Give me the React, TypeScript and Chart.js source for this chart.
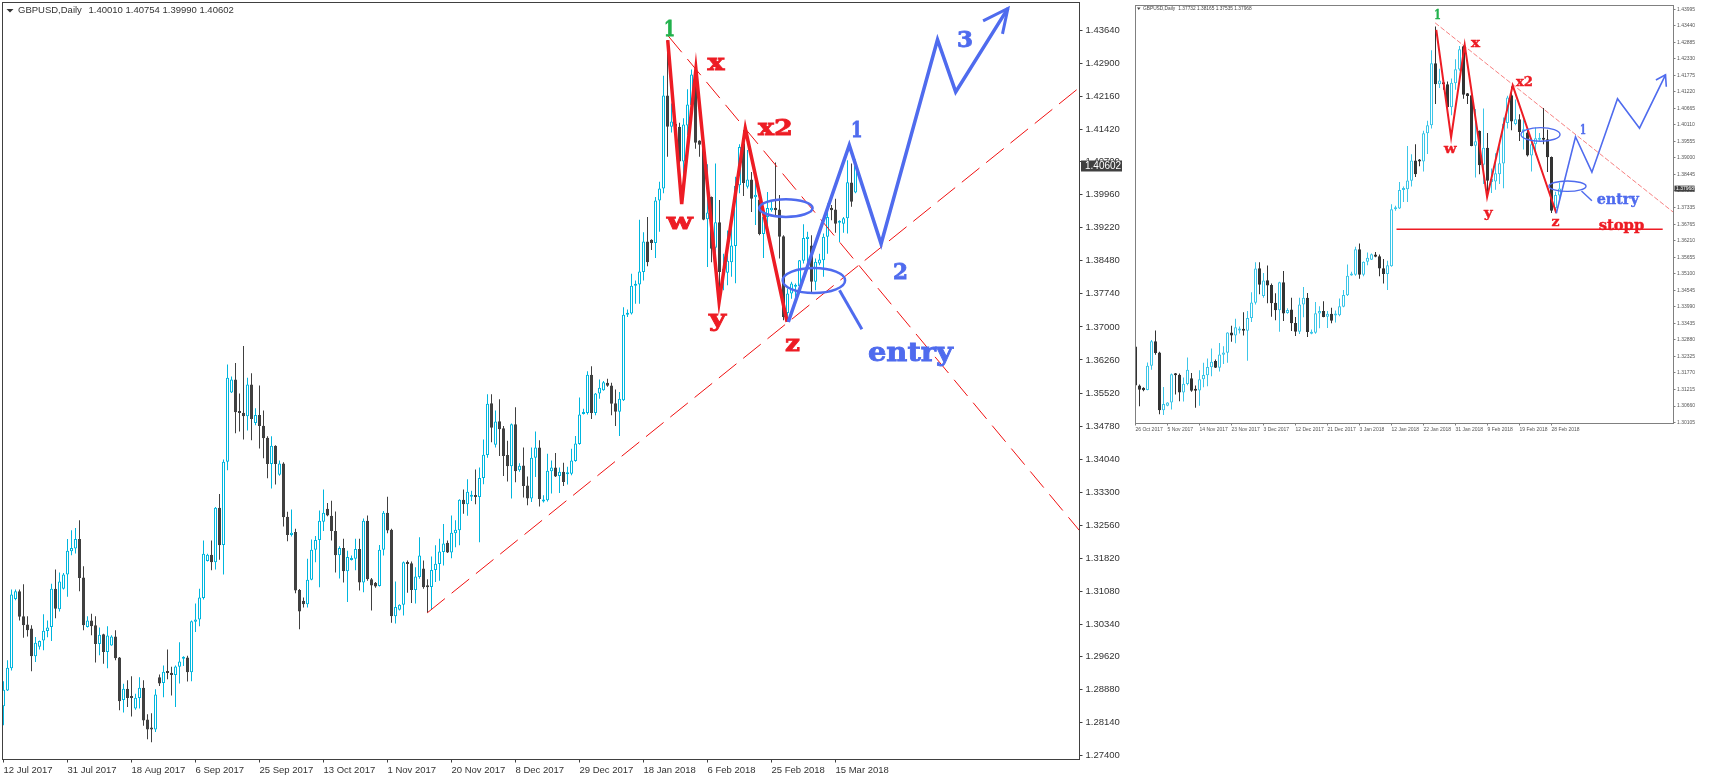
import React, { useEffect, useRef } from "react";
import { Chart, registerables } from "chart.js";

Chart.register(...registerables);

// ---------- price data (daily GBPUSD candles) ----------
const opens = [
  1.2851,1.2886,1.2936,1.3091,1.3108,1.3052,1.3034,1.3025,1.2963,1.2984,
  1.2998,1.3019,1.3028,1.3114,1.3068,1.3114,1.3146,1.3198,1.3204,1.3225,
  1.3139,1.3028,1.3043,1.3032,1.2990,1.3012,1.2972,1.2987,1.3007,1.2960,
  1.2865,1.2890,1.2871,1.2846,1.2869,1.2892,1.2821,1.2801,1.2799,1.2916,
  1.2903,1.2928,1.2926,1.2921,1.2939,1.2957,1.2960,1.2927,1.3040,1.3045,
  1.3093,1.3176,1.3190,1.3173,1.3295,1.3212,1.3398,1.3553,1.3582,1.3510,
  1.3508,1.3500,1.3571,1.3485,1.3503,1.3479,1.3452,1.3393,1.3434,1.3369,
  1.3394,1.3275,1.3234,1.3241,1.3111,1.3087,1.3079,1.3134,1.3201,1.3223,
  1.3264,1.3293,1.3277,1.3243,1.3189,1.3205,1.3153,1.3178,1.3181,1.3203,
  1.3128,1.3266,1.3135,1.3127,1.3120,1.3201,1.3284,1.3246,1.3052,1.3067,
  1.3078,1.3173,1.3171,1.3111,1.3140,1.3159,1.3118,1.3118,1.3156,1.3169,
  1.3196,1.3217,1.3195,1.3238,1.3245,1.3313,1.3303,1.3320,1.3322,1.3319,
  1.3362,1.3413,1.3529,1.3436,1.3489,1.3473,1.3413,1.3388,1.3482,1.3379,
  1.3390,1.3345,1.3316,1.3407,1.3430,1.3309,1.3312,1.3377,1.3385,1.3366,
  1.3376,1.3370,1.3371,1.3400,1.3438,1.3505,1.3507,1.3593,1.3507,1.3551,
  1.3558,1.3575,1.3569,1.3529,1.3510,1.3536,1.3727,1.3730,1.3792,1.3795,
  1.3823,1.3891,1.3895,1.3888,1.3983,1.4010,1.4218,1.4148,1.4154,1.4148,
  1.4070,1.4151,1.4197,1.4275,1.4117,1.4111,1.3941,1.3991,1.3877,1.3934,
  1.3819,1.3821,1.3845,1.3881,1.4017,1.4111,1.4014,1.4030,1.3990,1.3985,
  1.3908,1.3946,1.3961,1.3967,1.3963,1.3903,1.3731,1.3775,1.3790,1.3791,
  1.3848,1.3897,1.3882,1.3801,1.3842,1.3849,1.3902,1.3967,1.3963,1.3933,
  1.3931,1.3943,1.4023,1.4001,
];
const highs = [
  1.2907,1.2954,1.3112,1.3112,1.3112,1.3124,1.3052,1.3032,1.3006,1.2998,
  1.3057,1.3043,1.3125,1.3157,1.3150,1.3149,1.3225,1.3245,1.3250,1.3267,
  1.3164,1.3052,1.3058,1.3052,1.3027,1.3013,1.3030,1.3010,1.3021,1.2961,
  1.2901,1.2909,1.2918,1.2879,1.2916,1.2909,1.2833,1.2835,1.2889,1.2922,
  1.2942,1.2978,1.2939,1.2942,1.2994,1.2963,1.2964,1.3043,1.3081,1.3114,
  1.3222,1.3192,1.3222,1.3297,1.3326,1.3403,1.3616,1.3589,1.3619,1.3551,
  1.3657,1.3586,1.3596,1.3518,1.3569,1.3513,1.3455,1.3455,1.3435,1.3401,
  1.3397,1.3286,1.3291,1.3248,1.3113,1.3094,1.3181,1.3224,1.3232,1.3289,
  1.3336,1.3306,1.3311,1.3287,1.3209,1.3226,1.3199,1.3188,1.3226,1.3226,
  1.3271,1.3278,1.3138,1.3129,1.3212,1.3288,1.3320,1.3248,1.3130,1.3079,
  1.3175,1.3177,1.3175,1.3162,1.3229,1.3177,1.3135,1.3186,1.3211,1.3226,
  1.3259,1.3222,1.3278,1.3267,1.3314,1.3336,1.3359,1.3333,1.3381,1.3385,
  1.3448,1.3549,1.3549,1.3513,1.3538,1.3478,1.3445,1.3484,1.3520,1.3395,
  1.3430,1.3365,1.3430,1.3466,1.3446,1.3323,1.3416,1.3401,1.3418,1.3385,
  1.3396,1.3387,1.3427,1.3456,1.3542,1.3517,1.3601,1.3612,1.3552,1.3582,
  1.3579,1.3584,1.3575,1.3560,1.3554,1.3744,1.3739,1.3819,1.3804,1.3940,
  1.3912,1.3946,1.3896,1.3991,1.4025,1.4262,1.4342,1.4200,1.4163,1.4157,
  1.4167,1.4232,1.4276,1.4279,1.4118,1.4126,1.4064,1.3992,1.4066,1.3984,
  1.3864,1.3916,1.3939,1.4036,1.4109,1.4140,1.4096,1.4047,1.4030,1.4002,
  1.3965,1.4002,1.3984,1.4068,1.3995,1.3905,1.3786,1.3801,1.3797,1.3850,
  1.3930,1.3913,1.3905,1.3853,1.3864,1.3909,1.3976,1.3973,1.3987,1.3939,
  1.3946,1.4073,1.4066,1.4075,
];
const lows = [
  1.2808,1.2885,1.2931,1.3088,1.3043,1.3004,1.3007,1.2929,1.2950,1.2978,
  1.2976,1.3005,1.2997,1.3048,1.3063,1.3112,1.3096,1.3189,1.3193,1.3108,
  1.3021,1.3027,1.3010,1.2949,1.2965,1.2946,1.2936,1.2986,1.2954,1.2842,
  1.2837,1.2849,1.2828,1.2843,1.2846,1.2807,1.2777,1.2770,1.2793,1.2896,
  1.2871,1.2911,1.2875,1.2849,1.2902,1.2941,1.2906,1.2907,1.3017,1.3030,
  1.3090,1.3175,1.3155,1.3157,1.3179,1.3146,1.3379,1.3552,1.3462,1.3466,
  1.3448,1.3468,1.3446,1.3480,1.3428,1.3406,1.3361,1.3338,1.3347,1.3367,
  1.3253,1.3220,1.3231,1.3104,1.3023,1.3072,1.3072,1.3133,1.3173,1.3117,
  1.3243,1.3276,1.3222,1.3150,1.3137,1.3128,1.3084,1.3177,1.3155,1.3110,
  1.3106,1.3132,1.3065,1.3116,1.3119,1.3188,1.3238,1.3038,1.3036,1.3065,
  1.3054,1.3105,1.3082,1.3081,1.3136,1.3114,1.3060,1.3067,1.3129,1.3132,
  1.3166,1.3194,1.3182,1.3207,1.3211,1.3282,1.3277,1.3310,1.3303,1.3218,
  1.3348,1.3407,1.3442,1.3430,1.3411,1.3366,1.3354,1.3316,1.3352,1.3376,
  1.3318,1.3301,1.3308,1.3364,1.3298,1.3307,1.3309,1.3327,1.3364,1.3328,
  1.3344,1.3347,1.3368,1.3398,1.3436,1.3504,1.3504,1.3494,1.3502,1.3539,
  1.3557,1.3566,1.3502,1.3478,1.3456,1.3534,1.3722,1.3728,1.3752,1.3752,
  1.3804,1.3836,1.3872,1.3854,1.3913,1.3999,1.4081,1.4135,1.4129,1.4043,
  1.4043,1.4129,1.4193,1.4099,1.4081,1.3939,1.3834,1.3845,1.3812,1.3786,
  1.3782,1.3793,1.3812,1.3798,1.3999,1.3993,1.4010,1.3957,1.3928,1.3905,
  1.3854,1.3909,1.3958,1.3946,1.3853,1.3715,1.3715,1.3763,1.3767,1.3778,
  1.3842,1.3842,1.3778,1.3782,1.3838,1.3812,1.3864,1.3939,1.3911,1.3890,
  1.3911,1.3909,1.3969,1.3999,
];
const closes = [
  1.2888,1.2937,1.3101,1.3108,1.3051,1.3032,1.3021,1.2963,1.2993,1.2997,
  1.3020,1.3027,1.3114,1.3069,1.3130,1.3146,1.3199,1.3205,1.3225,1.3138,
  1.3032,1.3043,1.3030,1.2990,1.3011,1.2972,1.3009,1.3007,1.2958,1.2862,
  1.2890,1.2869,1.2869,1.2870,1.2892,1.2819,1.2799,1.2799,1.2877,1.2902,
  1.2928,1.2925,1.2921,1.2940,1.2951,1.2960,1.2927,1.3041,1.3045,1.3094,
  1.3192,1.3190,1.3173,1.3295,1.3211,1.3398,1.3586,1.3582,1.3509,1.3507,
  1.3500,1.3571,1.3494,1.3503,1.3478,1.3451,1.3393,1.3434,1.3393,1.3394,
  1.3274,1.3234,1.3239,1.3110,1.3063,1.3079,1.3134,1.3201,1.3223,1.3266,
  1.3284,1.3278,1.3243,1.3189,1.3205,1.3153,1.3185,1.3181,1.3203,1.3128,
  1.3266,1.3135,1.3121,1.3119,1.3201,1.3284,1.3244,1.3052,1.3073,1.3078,
  1.3173,1.3169,1.3111,1.3141,1.3188,1.3117,1.3117,1.3156,1.3170,1.3197,
  1.3215,1.3195,1.3239,1.3246,1.3313,1.3303,1.3331,1.3322,1.3319,1.3362,
  1.3414,1.3528,1.3474,1.3488,1.3471,1.3411,1.3388,1.3482,1.3377,1.3389,
  1.3344,1.3316,1.3407,1.3430,1.3315,1.3313,1.3378,1.3385,1.3365,1.3376,
  1.3353,1.3372,1.3401,1.3439,1.3504,1.3508,1.3593,1.3507,1.3551,1.3564,
  1.3576,1.3568,1.3528,1.3510,1.3539,1.3727,1.3730,1.3792,1.3795,1.3824,
  1.3891,1.3845,1.3888,1.3983,1.4010,1.4218,1.4148,1.4160,1.4148,1.4070,
  1.4153,1.4198,1.4265,1.4112,1.4108,1.3940,1.3956,1.3875,1.3934,1.3823,
  1.3830,1.3848,1.3882,1.4016,1.4103,1.4022,1.4030,1.3987,1.3996,1.3908,
  1.3946,1.3966,1.3967,1.3961,1.3902,1.3722,1.3775,1.3797,1.3793,1.3849,
  1.3899,1.3902,1.3801,1.3846,1.3851,1.3902,1.3946,1.3961,1.3931,1.3937,
  1.3943,1.4024,1.3980,1.4060,
];

// the small chart stops on an unfinished bar
const insetFirstBar = 91;
const insetLastBar = 197;
const insetLastOHLC = [1.37732, 1.38165, 1.37535, 1.37968];

// ---------- axes ----------
const mainDates = ["12 Jul 2017","31 Jul 2017","18 Aug 2017","6 Sep 2017","25 Sep 2017","13 Oct 2017","1 Nov 2017","20 Nov 2017","8 Dec 2017","29 Dec 2017","18 Jan 2018","6 Feb 2018","25 Feb 2018","15 Mar 2018"];
const mainDateBars = [0,16,32,48,64,80,96,112,128,144,160,176,192,208];
const mainPriceTicks = [1.4364,1.429,1.4216,1.4142,1.407,1.3996,1.3922,1.3848,1.3774,1.37,1.3626,1.3552,1.3478,1.3404,1.333,1.3256,1.3182,1.3108,1.3034,1.2962,1.2888,1.2814,1.274];
const insetDates = ["26 Oct 2017","5 Nov 2017","14 Nov 2017","23 Nov 2017","3 Dec 2017","12 Dec 2017","21 Dec 2017","3 Jan 2018","12 Jan 2018","22 Jan 2018","31 Jan 2018","9 Feb 2018","19 Feb 2018","28 Feb 2018"];
const insetDateBars = [91,99,107,115,123,131,139,147,155,163,171,179,187,195];
const insetPriceTicks = [1.43995,1.4344,1.42885,1.4233,1.41775,1.4122,1.40665,1.4011,1.39555,1.39,1.38445,1.3789,1.37335,1.36765,1.3621,1.35655,1.351,1.34545,1.3399,1.33435,1.3288,1.32325,1.3177,1.31215,1.3066,1.30105];

// ---------- hand drawn marks, as [bar, price] ----------
const mainRedWave = [[166.05,1.4342],[169.55,1.3975],[173.1,1.4277],[178.9,1.3756],[185.45,1.4144],[195.9,1.3711]];
const mainBlueWave = [[196.2,1.3711],[211.45,1.4107],[219.4,1.3886],[233.5,1.4343],[238.05,1.4226],[251.1,1.4413]];
const mainBlueArrow = [[244.9,1.4385],[251.1,1.4413],[249.75,1.4356]];
const mainEntryPointer = [[209,1.3782],[214.6,1.3695]];
const mainRisingLine = [[105.95,1.306],[269,1.4236]];
const mainFallingLine = [[166.2,1.4351],[269,1.3244]];
const mainEllipses = [[195.6,1.3966,6.68,0.00197],[202.6,1.3804,7.8,0.0028]];
const mainNotes: [string, number, number, string, number][] = [
  ["1",165.1,1.4351,"green",11],["x",176,1.4275,"red",17],["w",165.8,1.392,"red",26],["y",176.4,1.3701,"red",17],
  ["z",195.4,1.3647,"red",15],["x2",188.6,1.4129,"red",35],["1",211.9,1.4125,"blue",11.5],["2",222.4,1.3807,"blue",15],
  ["3",238.4,1.4327,"blue",16],["entry",216.1,1.3623,"blue",85],
];

const insetRedWave = [[166.2,1.433],[169.9,1.3969],[173.3,1.428],[178.9,1.3768],[185.3,1.4144],[196.2,1.3714]];
const insetBlueWave = [[196.2,1.3714],[201,1.3971],[205.1,1.3852],[211.5,1.4099],[217,1.4],[223.5,1.4179]];
const insetBlueArrow = [[221.1,1.4162],[223.5,1.4179],[223.7,1.4139]];
const insetEntryPointer = [[202.5,1.3789],[205.1,1.3756]];
const insetFallingLine = [[165.9,1.4354],[225.5,1.3717]];
const insetStopLine = [[156.25,1.366],[222.8,1.366]];
const insetEllipses = [[192.25,1.3979,4.88,0.00229],[199,1.3805,4.63,0.00175]];
const insetNotes: [string, number, number, string, number][] = [
  ["1",165.7,1.4366,"green",6.6],["x",174.9,1.4274,"red",9],["w",168.1,1.3918,"red",12.5],["y",178.1,1.3701,"red",8.6],
  ["z",195,1.3672,"red",8],["x2",186.1,1.4142,"red",17],["1",202.1,1.398,"blue",6],["entry",206.3,1.3745,"blue",42],["stopp",206.8,1.3658,"red",45.5],
];

// ---------- styles ----------
const RED = "#ED1C24";
const BLUE = "#4F6BEE";
const GREEN = "#22B14C";
const DARK = "#404040";
const noteColor: Record<string, string> = { red: RED, blue: BLUE, green: GREEN };
const pts = (a: number[][]) => a.map(([x, y]) => ({ x, y }));

type Panel = {
  width: number; height: number; left: number; top: number; right: number; bottom: number;
  barStart: number; barEnd: number; priceTop: number; priceBottom: number;
  o: number[]; h: number[]; l: number[]; c: number[]; firstBar: number;
  dates: string[]; dateBars: number[]; priceTicks: number[];
  bull: string; bear: string; frame: string; textColor: string;
  axisFont: number; tickLen: number; xPad: number; yPad: number; bodyWidth: number;
  lines: any[]; ellipses: number[][]; ellipseWidth: number; notes: [string, number, number, string, number][]; noteSize: number; entrySize: number; noteStroke: number;
  tagClose: number; tagWidth: number; tagHeight: number; tagX: number; tagFont: number;
  title: (ctx: CanvasRenderingContext2D) => void;
};

function buildChart(canvas: HTMLCanvasElement, p: Panel) {
  const n = p.o.length;
  const bars = Array.from({ length: n }, (_, k) => k + p.firstBar);
  const colour = (k: number) => (p.c[k] >= p.o[k] ? p.bull : p.bear);
  const overlay = {
    id: "overlay",
    afterDraw(chart: any) {
      const { ctx, chartArea: a } = chart;
      const xs = chart.scales.x, ys = chart.scales.y;
      ctx.save();
      ctx.strokeStyle = p.frame;
      ctx.lineWidth = 1;
      ctx.strokeRect(a.left, a.top, a.right - a.left, a.bottom - a.top);

      ctx.beginPath();
      ctx.rect(a.left, 0, a.right - a.left, p.height);
      ctx.save();
      ctx.clip();
      ctx.strokeStyle = BLUE;
      ctx.lineWidth = p.ellipseWidth;
      for (const [bx, by, rx, ry] of p.ellipses) {
        const cx = xs.getPixelForValue(bx), cy = ys.getPixelForValue(by);
        ctx.beginPath();
        ctx.ellipse(cx, cy, Math.abs(xs.getPixelForValue(bx + rx) - cx), Math.abs(ys.getPixelForValue(by + ry) - cy), 0, 0, Math.PI * 2);
        ctx.stroke();
      }
      ctx.textAlign = "left";
      ctx.textBaseline = "alphabetic";
      for (const [text, bx, by, tone, w] of p.notes) {
        const size = text === "entry" || text === "stopp" ? p.entrySize : p.noteSize;
        ctx.font = `bold ${size}px "DejaVu Serif"`;
        ctx.fillStyle = noteColor[tone];
        ctx.strokeStyle = noteColor[tone];
        ctx.lineWidth = p.noteStroke;
        const m = ctx.measureText(text).width;
        ctx.save();
        ctx.translate(xs.getPixelForValue(bx), ys.getPixelForValue(by));
        ctx.scale(w / m, 1);
        ctx.fillText(text, 0, 0);
        ctx.strokeText(text, 0, 0);
        ctx.restore();
      }
      ctx.restore();

      const ty = ys.getPixelForValue(p.tagClose);
      ctx.fillStyle = DARK;
      ctx.fillRect(p.tagX, ty - p.tagHeight / 2, p.tagWidth, p.tagHeight);
      ctx.fillStyle = "#ffffff";
      ctx.font = `${p.tagFont}px "Liberation Sans"`;
      ctx.textAlign = "left";
      ctx.textBaseline = "middle";
      ctx.fillText(p.tagClose.toFixed(5), p.tagX + (p.tagWidth > 30 ? 4 : 1.5), ty + 0.5);
      p.title(ctx);
      ctx.restore();
    },
  };

  return new Chart(canvas, {
    type: "bar",
    data: {
      datasets: [
        ...p.lines.map((l, i) => ({ type: "line", order: i, data: pts(l.points), borderColor: l.color, borderWidth: l.width, borderDash: l.dash || [], pointRadius: 0, tension: 0, fill: false, borderCapStyle: "butt", borderJoinStyle: "miter", clip: false })),
        {
          type: "bar", order: 50, grouped: false, inflateAmount: 0, borderSkipped: false, borderWidth: 1, minBarLength: 2,
          barThickness: p.bodyWidth, maxBarThickness: p.bodyWidth,
          data: bars.map((x, k) => ({ x, y: [p.o[k], p.c[k]] })),
          backgroundColor: bars.map((_, k) => (p.c[k] >= p.o[k] ? "#ffffff" : p.bear)),
          borderColor: bars.map((_, k) => colour(k)),
        },
        {
          type: "bar", order: 60, grouped: false, inflateAmount: 0, borderWidth: 0,
          barThickness: 1, maxBarThickness: 1,
          data: bars.map((x, k) => ({ x, y: [p.l[k], p.h[k]] })),
          backgroundColor: bars.map((_, k) => colour(k)),
        },
      ],
    } as any,
    options: {
      responsive: false,
      devicePixelRatio: 1,
      animation: false,
      events: [],
      layout: { padding: { left: p.left, top: p.top, right: 0, bottom: 0 } },
      plugins: { legend: { display: false }, tooltip: { enabled: false } },
      scales: {
        x: {
          type: "linear", offset: false, min: p.barStart, max: p.barEnd,
          afterBuildTicks: (s: any) => { s.ticks = p.dateBars.map((value) => ({ value })); },
          afterFit: (s: any) => { s.height = p.height - p.bottom; s.paddingLeft = 0; s.paddingRight = 0; },
          grid: { display: true, offset: false, drawOnChartArea: false, drawTicks: true, tickLength: p.tickLen, color: p.frame },
          border: { display: false },
          ticks: {
            autoSkip: false, maxRotation: 0, minRotation: 0, align: "start", padding: p.xPad, color: p.textColor,
            font: { family: "Liberation Sans", size: p.axisFont },
            callback: (v: number) => p.dates[p.dateBars.indexOf(v)],
          },
        },
        y: {
          type: "linear", position: "right", beginAtZero: false, min: p.priceBottom, max: p.priceTop,
          afterBuildTicks: (s: any) => { s.ticks = p.priceTicks.map((value) => ({ value })); },
          afterFit: (s: any) => { s.width = p.width - p.right; s.paddingTop = 0; s.paddingBottom = 0; },
          grid: { display: true, drawOnChartArea: false, drawTicks: true, tickLength: p.tickLen, color: p.frame },
          border: { display: false },
          ticks: {
            autoSkip: false, padding: p.yPad, color: p.textColor,
            font: { family: "Liberation Sans", size: p.axisFont },
            callback: (v: number) => v.toFixed(5),
          },
        },
      },
    } as any,
    plugins: [overlay],
  } as any);
}

function drawTitle(ctx: CanvasRenderingContext2D, tri: number[], size: number, name: string, nameX: number, rest: string, restX: number, y: number, color: string) {
  ctx.fillStyle = color;
  ctx.beginPath();
  ctx.moveTo(tri[0], tri[1]);
  ctx.lineTo(tri[2], tri[1]);
  ctx.lineTo((tri[0] + tri[2]) / 2, tri[3]);
  ctx.closePath();
  ctx.fill();
  ctx.font = `${size}px "Liberation Sans"`;
  ctx.textAlign = "left";
  ctx.textBaseline = "middle";
  ctx.fillText(name, nameX, y);
  ctx.fillText(rest, restX, y);
}

export default function App() {
  const mainRef = useRef<HTMLCanvasElement>(null);
  const insetRef = useRef<HTMLCanvasElement>(null);

  useEffect(() => {
    const mainChart = buildChart(mainRef.current!, {
      width: 1130, height: 779, left: 2.5, top: 2.5, right: 1079.5, bottom: 759.5,
      barStart: -0.25, barEnd: 269, priceTop: 1.44262, priceBottom: 1.27316,
      o: opens, h: highs, l: lows, c: closes, firstBar: 0,
      dates: mainDates, dateBars: mainDateBars, priceTicks: mainPriceTicks,
      bull: "#00B6DE", bear: DARK, frame: DARK, textColor: "#333333",
      axisFont: 9.5, tickLen: 3, xPad: 2, yPad: 3, bodyWidth: 3,
      lines: [
        { points: mainBlueArrow, color: BLUE, width: 3 },
        { points: mainBlueWave, color: BLUE, width: 3.5 },
        { points: mainEntryPointer, color: BLUE, width: 3 },
        { points: mainRedWave, color: RED, width: 3.5 },
        { points: mainRisingLine, color: "#F01010", width: 1, dash: [22.6, 8.6] },
        { points: mainFallingLine, color: "#F01010", width: 1, dash: [21, 8.8] },
      ],
      ellipses: mainEllipses, ellipseWidth: 2.5, notes: mainNotes, noteSize: 22, entrySize: 26, noteStroke: 0.8,
      tagClose: closes[closes.length - 1] + 0.00002, tagWidth: 41, tagHeight: 11, tagX: 1081, tagFont: 10,
      title: (ctx) => drawTitle(ctx, [6.5, 9, 13.5, 12.5], 9.5, "GBPUSD,Daily", 18, "1.40010 1.40754 1.39990 1.40602", 88.5, 10.5, "#333333"),
    });

    const oI = opens.slice(insetFirstBar, insetLastBar).concat(insetLastOHLC[0]);
    const hI = highs.slice(insetFirstBar, insetLastBar).concat(insetLastOHLC[1]);
    const lI = lows.slice(insetFirstBar, insetLastBar).concat(insetLastOHLC[2]);
    const cI = closes.slice(insetFirstBar, insetLastBar).concat(insetLastOHLC[3]);
    const insetChart = buildChart(insetRef.current!, {
      width: 587, height: 779, left: 5.5, top: 5.5, right: 543.5, bottom: 423.5,
      barStart: 91, barEnd: 225.5, priceTop: 1.44123, priceBottom: 1.30072,
      o: oI, h: hI, l: lI, c: cI, firstBar: insetFirstBar,
      dates: insetDates, dateBars: insetDateBars, priceTicks: insetPriceTicks,
      bull: "#3CC6E8", bear: "#333333", frame: "#808080", textColor: "#555555",
      axisFont: 5, tickLen: 2, xPad: 1, yPad: 1.5, bodyWidth: 3,
      lines: [
        { points: insetBlueArrow, color: BLUE, width: 1.6 },
        { points: insetBlueWave, color: BLUE, width: 1.6 },
        { points: insetEntryPointer, color: BLUE, width: 1.4 },
        { points: insetRedWave, color: RED, width: 2 },
        { points: insetStopLine, color: RED, width: 1.6 },
        { points: insetFallingLine, color: "#F56060", width: 0.8, dash: [5, 2] },
      ],
      ellipses: insetEllipses, ellipseWidth: 1.4, notes: insetNotes, noteSize: 12, entrySize: 14, noteStroke: 0.4,
      tagClose: insetLastOHLC[3], tagWidth: 20, tagHeight: 6, tagX: 544.5, tagFont: 5,
      title: (ctx) => drawTitle(ctx, [7, 7.5, 10.5, 10], 4.8, "GBPUSD,Daily", 13, "1.37732 1.38165 1.37535 1.37968", 48.3, 9, "#444444"),
    });

    return () => {
      mainChart.destroy();
      insetChart.destroy();
    };
  }, []);

  return (
    <div style={{ position: "absolute", left: 0, top: 0, width: 1717, height: 779, background: "#ffffff", overflow: "hidden" }}>
      <canvas ref={mainRef} width={1130} height={779} style={{ position: "absolute", left: 0, top: 0, width: 1130, height: 779 }} />
      <canvas ref={insetRef} width={587} height={779} style={{ position: "absolute", left: 1130, top: 0, width: 587, height: 779, filter: "blur(0.35px)" }} />
    </div>
  );
}
